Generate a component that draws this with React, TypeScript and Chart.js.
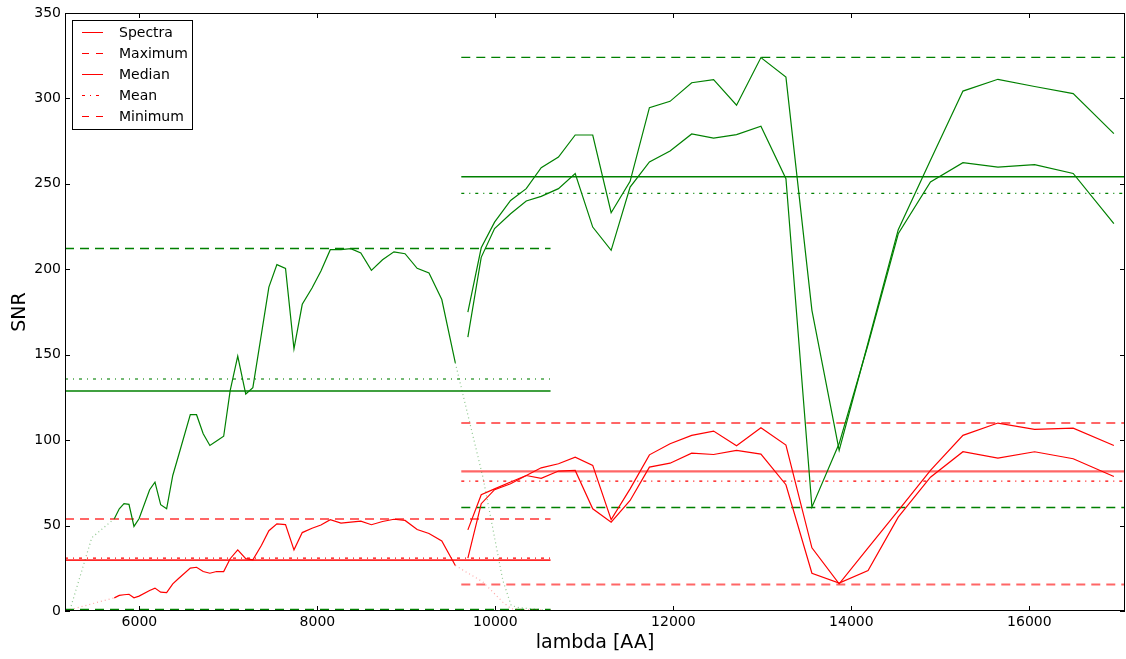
import { useEffect, useRef } from "react";
import { Chart, registerables } from "chart.js";
Chart.register(...registerables);

// ---------- data ----------
const xTicks = [6000, 8000, 10000, 12000, 14000, 16000];
const yTicks = [0, 50, 100, 150, 200, 250, 300, 350];
const xLimits = [5164, 17075];

// optical arm
const optWave = [5718, 5774, 5827, 5883, 5939, 5996, 6115, 6175, 6239, 6306, 6375, 6440, 6572, 6642, 6717, 6792, 6867, 6947, 7020, 7105, 7195, 7275, 7372, 7455, 7545, 7642, 7737, 7830, 7940, 8040, 8145, 8265, 8375, 8488, 8607, 8732, 8860, 8985, 9121, 9254, 9398, 9550];
const optGreen = [54, 59.8, 62.8, 62.4, 49.5, 54, 71, 75.4, 62.2, 59.8, 79.3, 91, 115, 114.9, 103.7, 96.9, 99.5, 102.3, 129, 149.2, 127, 130.7, 162.3, 189.6, 202.7, 200.5, 153.4, 179.5, 189, 199, 211.5, 211.5, 212.1, 209.6, 199.4, 205.6, 210.2, 209.1, 200.6, 197.9, 182.3, 145.2];
const optRed = [7.7, 9.1, 9.5, 9.8, 7.7, 8.7, 12, 13.4, 11, 10.8, 15.9, 19, 25.1, 25.6, 23.1, 22.1, 23.1, 23.1, 30.6, 35.8, 30.6, 30, 38.5, 47, 51, 50.6, 35.8, 45.9, 48.4, 50.3, 53.4, 51.4, 52, 52.6, 50.5, 52.4, 53.7, 53, 47.7, 45.4, 41, 26.6];

// optical low-quality edges (dotted)
const optPreWave = [5220, 5465, 5718];
const optPreGreen = [0.7, 42.9, 54];
const optPreRed = [0.7, 4.2, 7.7];
const optPostWave = [9550, 9860, 10084, 10178, 10271, 10533];
const optPostGreen = [145.2, 78.3, 17.9, 3.2, 1.9, 0.7];
const optPostRed = [26.6, 17, 5.2, 1.3, 0.9, 0.7];

// NIR arm
const nirWave = [9691, 9841, 9991, 10171, 10347, 10515, 10709, 10897, 11094, 11301, 11514, 11731, 11963, 12206, 12452, 12710, 12984, 13265, 13557, 13863, 14188, 14527, 14889, 15254, 15647, 16059, 16493, 16950];
const nirGreenA = [174.9, 212.6, 227.6, 240.3, 247.2, 259.5, 265.7, 278.6, 278.6, 233.1, 251.5, 294.6, 298.3, 309.2, 311, 296, 323.9, 312.5, 176, 94, 157, 223.2, 263.8, 304.3, 311.2, 307, 302.8, 279.4];
const nirGreenB = [160.3, 207, 223.8, 232.5, 240, 242.7, 247.2, 256, 224.7, 211.1, 248.1, 262.8, 269.2, 279.2, 276.8, 278.8, 283.7, 253, 60.8, 98, 156, 220.8, 251.1, 262.4, 259.8, 261.2, 256.1, 226.7];
const nirRedA = [47.5, 68, 71.5, 75.5, 79.3, 83.8, 86.2, 90, 85.2, 53.5, 71.5, 91.4, 97.9, 102.8, 105.3, 96.7, 107.3, 97.1, 37, 15.9, 36.9, 58.8, 82.3, 102.8, 110, 106.3, 107, 96.9];
const nirRedB = [30.9, 62.8, 71, 74.5, 79.3, 77.6, 81.9, 82.3, 59.8, 52, 64.7, 84.2, 86.5, 92.4, 91.6, 94, 91.8, 73.9, 22.1, 16.3, 23.7, 54.9, 78.3, 93.2, 89.5, 93.2, 89.1, 78.7];

// statistics: [maximum, median, mean, minimum]
const optRange = [5164, 10620];
const nirRange = [9617, 17075];
const optStatsGreen = [212.2, 128.8, 135.8, 0.9];
const optStatsRed = [53.8, 29.8, 30.9, 0.5];
const nirStatsGreen = [324, 254.2, 244.4, 60.6];
const nirStatsRed = [110, 81.7, 76, 15.5];

const legendLabels = ["Spectra", "Maximum", "Median", "Mean", "Minimum"];

// ---------- helpers ----------
const GREEN = "#008000";
const RED = "#ff0000";
const DASH = [9, 6];
const DASHDOT = [3, 5, 1, 5];
const DOT = [1, 3];

const pts = (xs: number[], ys: number[]) => xs.map((x, i) => ({ x, y: ys[i] }));
const hline = (r: number[], y: number) => [
  { x: r[0], y },
  { x: r[1], y },
];
const ds = (data: any[], color: string, width: number, dash: number[] = []) => ({
  data,
  borderColor: color,
  backgroundColor: color,
  borderWidth: width,
  borderDash: dash,
  pointRadius: 0,
  tension: 0,
  fill: false,
});

const FONT = '"DejaVu Sans", sans-serif';

const framePlugin = {
  id: "frame",
  afterDraw(chart: any) {
    const { ctx, chartArea: a, scales } = chart;
    ctx.save();
    ctx.strokeStyle = "#000";
    ctx.lineWidth = 1;
    ctx.setLineDash([]);
    ctx.strokeRect(a.left + 0.5, a.top + 0.5, a.right - a.left - 1, a.bottom - a.top - 1);
    ctx.beginPath();
    for (const v of xTicks) {
      const px = Math.round(scales.x.getPixelForValue(v)) + 0.5;
      ctx.moveTo(px, a.bottom);
      ctx.lineTo(px, a.bottom - 5);
      ctx.moveTo(px, a.top);
      ctx.lineTo(px, a.top + 5);
    }
    for (const v of yTicks) {
      const py = Math.round(scales.y.getPixelForValue(v)) + 0.5;
      ctx.moveTo(a.left, py);
      ctx.lineTo(a.left + 5, py);
      ctx.moveTo(a.right, py);
      ctx.lineTo(a.right - 5, py);
    }
    ctx.stroke();

    // legend
    const lx = 72.5, ly = 20.5, lw = 120, lh = 109;
    ctx.fillStyle = "#fff";
    ctx.fillRect(lx, ly, lw, lh);
    ctx.strokeStyle = "#000";
    ctx.lineWidth = 1;
    ctx.strokeRect(lx, ly, lw, lh);
    const styles = [[], [7, 7], [], DASHDOT, [7, 7]];
    ctx.font = "14px " + FONT;
    ctx.textBaseline = "middle";
    ctx.textAlign = "left";
    legendLabels.forEach((lab, i) => {
      const y = 32.5 + i * 21;
      ctx.save();
      ctx.strokeStyle = RED;
      ctx.lineWidth = 1;
      ctx.setLineDash(styles[i] as number[]);
      ctx.beginPath();
      ctx.moveTo(82, y);
      ctx.lineTo(103, y);
      ctx.stroke();
      ctx.restore();
      ctx.fillStyle = "#000";
      ctx.fillText(lab, 119, y + 1);
    });

    // axis titles
    ctx.fillStyle = "#000";
    ctx.font = "19px " + FONT;
    ctx.textAlign = "center";
    ctx.textBaseline = "middle";
    ctx.fillText("lambda [AA]", (a.left + a.right) / 2, 643);
    ctx.translate(20, (a.top + a.bottom) / 2);
    ctx.rotate(-Math.PI / 2);
    ctx.fillText("SNR", 0, 0);
    ctx.restore();
  },
};

export default function App() {
  const ref = useRef<HTMLCanvasElement>(null);
  useEffect(() => {
    if (!ref.current) return;
    const datasets: any[] = [
      // optical spectra
      ds(pts(optWave, optGreen), GREEN, 1.2),
      ds(pts(optWave, optRed), RED, 1.2),
      ds(pts(optPreWave, optPreGreen), "rgba(0,128,0,0.45)", 1.2, DOT),
      ds(pts(optPostWave, optPostGreen), "rgba(0,128,0,0.45)", 1.2, DOT),
      ds(pts(optPreWave, optPreRed), "rgba(255,0,0,0.35)", 1.2, DOT),
      ds(pts(optPostWave, optPostRed), "rgba(255,0,0,0.35)", 1.2, DOT),
      // NIR spectra
      ds(pts(nirWave, nirGreenA), GREEN, 1.2),
      ds(pts(nirWave, nirGreenB), GREEN, 1.2),
      ds(pts(nirWave, nirRedA), RED, 1.2),
      ds(pts(nirWave, nirRedB), RED, 1.2),
      // optical statistics
      ds(hline(optRange, optStatsGreen[0]), GREEN, 1.4, DASH),
      ds(hline(optRange, optStatsGreen[1]), GREEN, 1.4),
      ds(hline(optRange, optStatsGreen[2]), "rgba(0,128,0,0.55)", 2, DASHDOT),
      ds(hline(optRange, optStatsGreen[3]), GREEN, 1.4, DASH),
      ds(hline(optRange, optStatsRed[0]), "rgba(255,0,0,0.6)", 2, DASH),
      ds(hline(optRange, optStatsRed[1]), "rgba(255,0,0,0.85)", 1.6),
      ds(hline(optRange, optStatsRed[2]), RED, 1.2, DASHDOT),
      ds(hline(optRange, optStatsRed[3]), "rgba(255,0,0,0.6)", 2, DASH),
      // NIR statistics
      ds(hline(nirRange, nirStatsGreen[0]), GREEN, 1.4, DASH),
      ds(hline(nirRange, nirStatsGreen[1]), GREEN, 1.4),
      ds(hline(nirRange, nirStatsGreen[2]), GREEN, 1.3, DASHDOT),
      ds(hline(nirRange, nirStatsGreen[3]), GREEN, 1.4, DASH),
      ds(hline(nirRange, nirStatsRed[0]), "rgba(255,0,0,0.6)", 2, DASH),
      ds(hline(nirRange, nirStatsRed[1]), "rgba(255,0,0,0.6)", 2.2),
      ds(hline(nirRange, nirStatsRed[2]), RED, 1.2, DASHDOT),
      ds(hline(nirRange, nirStatsRed[3]), "rgba(255,0,0,0.6)", 2, DASH),
    ];
    const chart = new Chart(ref.current, {
      type: "line",
      data: { datasets },
      options: {
        animation: false,
        responsive: false,
        devicePixelRatio: 1,
        layout: { padding: { top: 13, right: 1, left: 0, bottom: 0 } },
        plugins: { legend: { display: false }, tooltip: { enabled: false } },
        scales: {
          x: {
            type: "linear",
            min: xLimits[0],
            max: xLimits[1],
            grid: { display: false, drawTicks: false },
            border: { display: false },
            afterBuildTicks: (s: any) => {
              s.ticks = xTicks.map((v) => ({ value: v }));
            },
            afterFit: (s: any) => {
              s.height = 48;
            },
            ticks: {
              color: "#000",
              font: { family: FONT, size: 14 },
              padding: 3,
              maxRotation: 0,
              autoSkip: false,
              callback: (v: any) => String(v),
            },
          },
          y: {
            type: "linear",
            min: 0,
            max: 350,
            grid: { display: false, drawTicks: false },
            border: { display: false },
            afterBuildTicks: (s: any) => {
              s.ticks = yTicks.map((v) => ({ value: v }));
            },
            afterFit: (s: any) => {
              s.width = 65;
            },
            ticks: {
              color: "#000",
              font: { family: FONT, size: 14 },
              padding: 4,
              autoSkip: false,
              callback: (v: any) => String(v),
            },
          },
        },
      },
      plugins: [framePlugin],
    } as any);
    return () => chart.destroy();
  }, []);
  return (
    <div style={{ position: "absolute", left: 0, top: 0, width: 1126, height: 659, background: "#fff" }}>
      <canvas ref={ref} width={1126} height={659} style={{ width: 1126, height: 659, display: "block" }} />
    </div>
  );
}
